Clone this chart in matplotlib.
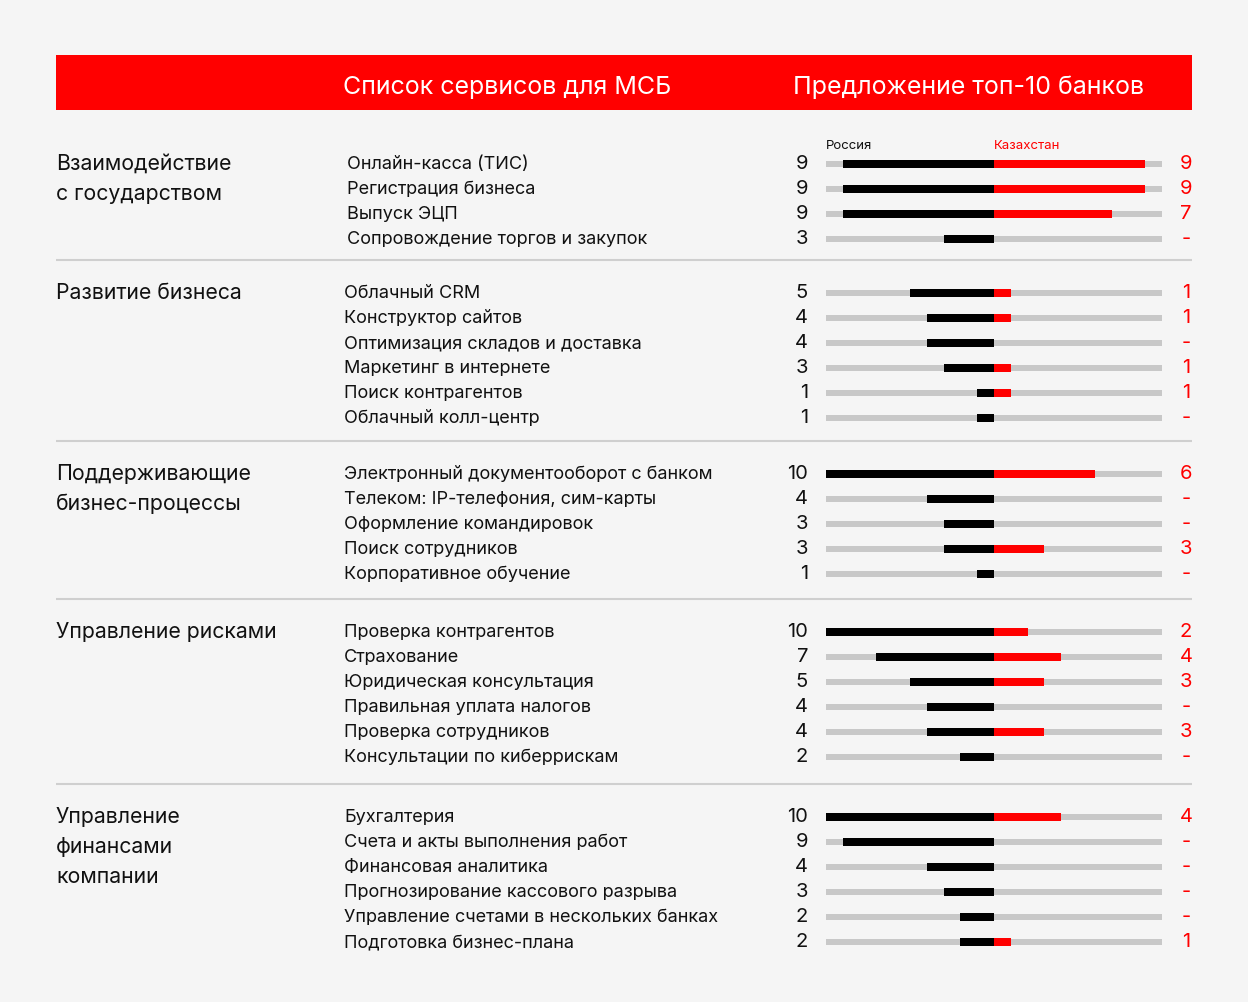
import matplotlib
matplotlib.use("Agg")
import matplotlib.pyplot as plt

plt.rcParams['font.family'] = ['Inter', 'DejaVu Sans']

# ---------------- data ----------------
groups = [
    "Взаимодействие\nс государством",
    "Развитие бизнеса",
    "Поддерживающие\nбизнес-процессы",
    "Управление рисками",
    "Управление\nфинансами\nкомпании",
]
services = [
    ["Онлайн-касса (ТИС)", "Регистрация бизнеса", "Выпуск ЭЦП",
     "Сопровождение торгов и закупок"],
    ["Облачный CRM", "Конструктор сайтов", "Оптимизация складов и доставка",
     "Маркетинг в интернете", "Поиск контрагентов", "Облачный колл-центр"],
    ["Электронный документооборот с банком", "Телеком: IP-телефония, сим-карты",
     "Оформление командировок", "Поиск сотрудников", "Корпоративное обучение"],
    ["Проверка контрагентов", "Страхование", "Юридическая консультация",
     "Правильная уплата налогов", "Проверка сотрудников",
     "Консультации по киберрискам"],
    ["Бухгалтерия", "Счета и акты выполнения работ", "Финансовая аналитика",
     "Прогнозирование кассового разрыва", "Управление счетами в нескольких банках",
     "Подготовка бизнес-плана"],
]
russia = [
    [9, 9, 9, 3],
    [5, 4, 4, 3, 1, 1],
    [10, 4, 3, 3, 1],
    [10, 7, 5, 4, 4, 2],
    [10, 9, 4, 3, 2, 2],
]
kazakhstan = [  # None = "-"
    [9, 9, 7, None],
    [1, 1, None, 1, 1, None],
    [6, None, None, 3, None],
    [2, 4, 3, None, 3, None],
    [4, None, None, None, None, 1],
]
max_value = 10
header_left = "Список сервисов для МСБ"
header_right = "Предложение топ-10 банков"
legend_left = "Россия"
legend_right = "Казахстан"

# ---------------- style / layout ----------------
W, H = 1248, 1003
BG = "#f5f5f5"
RED = "#ff0000"
TRACK = "#c8c8c8"
INK = "#111111"
group_top = [163, 292, 473, 631, 816]   # first row centre (px)
pitch = 25
label_x = [347, 344, 344, 344, 344]

fig = plt.figure(figsize=(W / 100, H / 100), dpi=100, facecolor=BG)
ax = fig.add_axes([0, 0, 1, 1])
ax.set_xlim(0, W)
ax.set_ylim(H, 0)
ax.axis("off")
ax.set_facecolor(BG)

# bar axes: x from 826 to 1162 px maps to -10..10
bx0, bx1 = 826, 1162
axb = fig.add_axes([bx0 / W, 0, (bx1 - bx0) / W, 1])
axb.set_xlim(-max_value, max_value)
axb.set_ylim(H, 0)
axb.axis("off")
axb.patch.set_alpha(0)

# header
ax.add_patch(plt.Rectangle((56, 56), 1136, 55, color=RED, lw=0))
ax.text(343, 94, header_left, color="white", fontsize=18, va="baseline", ha="left")
ax.text(793, 94, header_right, color="white", fontsize=18, va="baseline", ha="left")

# legend labels
ax.text(826, 149, legend_left, color=INK, fontsize=9.5, va="baseline", ha="left")
ax.text(994, 149, legend_right, color=RED, fontsize=9.5, va="baseline", ha="left")

for gi, gname in enumerate(groups):
    y0 = group_top[gi]
    # separator above group (except first)
    if gi > 0:
        ax.plot([56, 1192], [y0 - 31, y0 - 31], color="#cfcfcf", lw=1.5,
                solid_capstyle="butt")
    for li, line in enumerate(gname.split("\n")):
        ax.text(56, y0 + 7 + 30 * li, line, color=INK, fontsize=15.3,
                va="baseline", ha="left")
    ys = [y0 + pitch * i for i in range(len(services[gi]))]
    yb = [y + 1.5 for y in ys]
    ru = russia[gi]
    kz = [v if v is not None else 0 for v in kazakhstan[gi]]
    # tracks
    axb.barh(yb, [2 * max_value] * len(ys), left=-max_value, height=6,
             color=TRACK, lw=0)
    axb.barh(yb, [-v for v in ru], left=0, height=8, color="black", lw=0)
    axb.barh(yb, kz, left=0, height=8, color=RED, lw=0)
    for i, y in enumerate(ys):
        ax.text(label_x[gi], y + 6, services[gi][i], color=INK, fontsize=13,
                va="baseline", ha="left")
        ax.text(808, y + 6, str(ru[i]), color=INK, fontsize=14.5,
                va="baseline", ha="right")
        kv = kazakhstan[gi][i]
        ax.text(1186, y + 6, str(kv) if kv is not None else "-", color=RED,
                fontsize=14.5, va="baseline", ha="center")

fig.savefig("out.png", dpi=100, facecolor=BG)
